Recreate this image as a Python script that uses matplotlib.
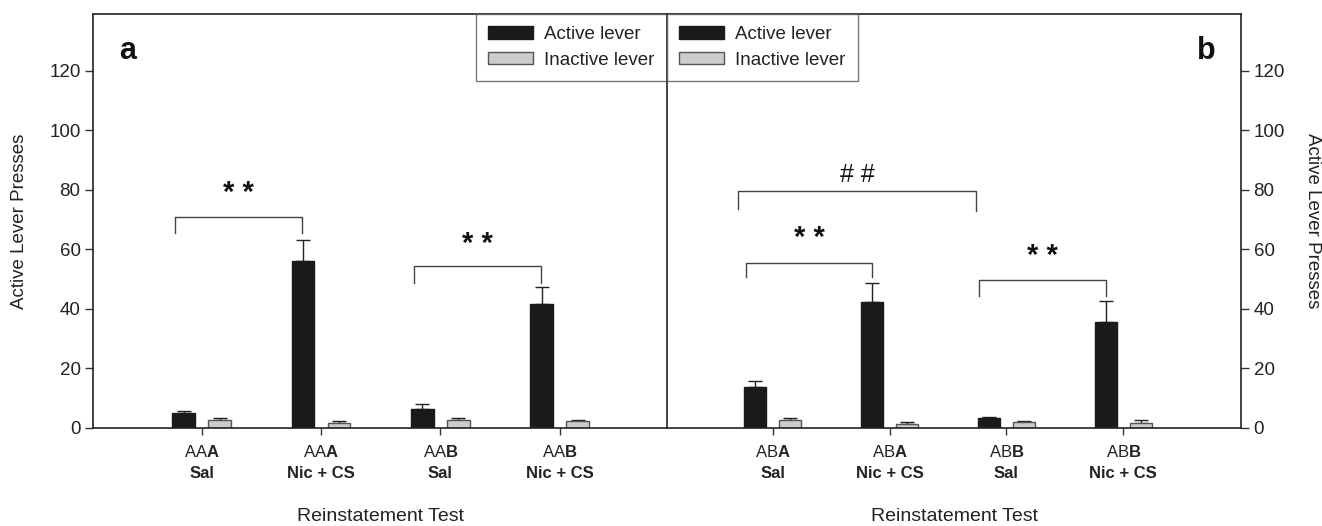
import matplotlib
matplotlib.use("Agg")
import matplotlib.pyplot as plt
from matplotlib.patches import Patch
import numpy as np

plt.rcParams['font.family'] = ['Liberation Sans', 'DejaVu Sans']
plt.rcParams['mathtext.fontset'] = 'custom'
plt.rcParams['mathtext.rm'] = 'Liberation Sans'
plt.rcParams['mathtext.bf'] = 'Liberation Sans:bold'

# data
groups_a = ["AA$\\mathbf{A}$", "AA$\\mathbf{A}$", "AA$\\mathbf{B}$", "AA$\\mathbf{B}$"]
groups_b = ["AB$\\mathbf{A}$", "AB$\\mathbf{A}$", "AB$\\mathbf{B}$", "AB$\\mathbf{B}$"]
conditions = ["Sal", "Nic + CS", "Sal", "Nic + CS"]

active_a = [4.9, 56.1, 6.3, 41.5]
active_a_err = [0.7, 6.8, 1.7, 5.8]
inactive_a = [2.5, 1.6, 2.6, 2.1]
inactive_a_err = [0.6, 0.6, 0.6, 0.6]

active_b = [13.8, 42.3, 3.1, 35.5]
active_b_err = [1.8, 6.3, 0.6, 7.0]
inactive_b = [2.7, 1.4, 2.0, 1.7]
inactive_b_err = [0.5, 0.4, 0.3, 0.8]

# significance brackets: (x0, x1, y, left leg end, right leg end, label, label y)
brackets_a = [(0.78, 1.84, 70.8, 65.4, 65.4, "* *", 79.0),
              (2.78, 3.84, 54.4, 48.7, 48.7, "* *", 61.8)]
brackets_b = [(0.706, 2.74, 79.6, 73.5, 72.7, "# #", 85.0),
              (0.769, 1.853, 55.5, 50.5, 50.5, "* *", 63.7),
              (2.766, 3.85, 49.5, 44.3, 44.3, "* *", 57.8)]

black = '#1a1a1a'
grey = '#cccccc'
w = 0.19
off = 0.15
x = np.arange(1, 5)

fig = plt.figure(figsize=(13.22, 5.26), dpi=100)
ax1 = fig.add_axes([0.07035, 0.1869, 0.4342, 0.7865])
ax2 = fig.add_axes([0.50454, 0.1869, 0.4342, 0.7865])


def panel(ax, act, act_err, inact, inact_err, groups, brackets, xlim, letter, side):
    ax.bar(x - off, act, w, color=black, edgecolor=black, lw=1, zorder=2)
    ax.bar(x + off, inact, w, color=grey, edgecolor='#555555', lw=1, zorder=2)
    ax.errorbar(x - off, act, yerr=[np.zeros(4), act_err], fmt='none',
                ecolor='#222222', elinewidth=1, capsize=5, capthick=1, zorder=1)
    ax.errorbar(x + off, inact, yerr=[np.zeros(4), inact_err], fmt='none',
                ecolor='#222222', elinewidth=1, capsize=5, capthick=1, zorder=1)
    ax.set_xlim(*xlim)
    ax.set_ylim(0, 139)
    ax.set_yticks(range(0, 121, 20))
    ax.set_xticks(x)
    ax.set_xticklabels([])
    ax.tick_params(axis='x', direction='out', length=5, width=1, colors='#333333')
    ax.tick_params(axis='y', direction='out', length=6, width=1, labelsize=13.5,
                   colors='#333333', labelcolor='#222222', pad=3)
    for s in ax.spines.values():
        s.set_linewidth(1.2)
        s.set_color('#222222')
    for i in range(4):
        ax.annotate(groups[i], xy=(x[i], 0), xycoords=('data', 'axes fraction'),
                    xytext=(0, -17.5), textcoords='offset points',
                    ha='center', va='center', fontsize=12, color='#222222')
        ax.annotate(conditions[i], xy=(x[i], 0), xycoords=('data', 'axes fraction'),
                    xytext=(0, -33), textcoords='offset points',
                    ha='center', va='center', fontsize=12, fontweight='bold',
                    color='#222222')
    for x0, x1, y, l0, l1, lab, ly in brackets:
        ax.plot([x0, x0, x1, x1], [l0, y, y, l1], color='#444444', lw=1)
        ax.text((x0 + x1) / 2, ly, lab, ha='center', va='center',
                fontsize=21 if lab.startswith('*') else 18,
                fontweight='bold' if lab.startswith('*') else 'normal',
                color='#111111')
    ax.text(0.06 if side == 'left' else 0.94, 0.91, letter, transform=ax.transAxes,
            ha='center', va='center', fontsize=22, fontweight='bold', color='#111111')
    ax.set_xlabel("Reinstatement Test", fontsize=14, color='#222222', labelpad=49)


panel(ax1, active_a, active_a_err, inactive_a, inactive_a_err, groups_a, brackets_a,
      (0.09, 4.9), 'a', 'left')
panel(ax2, active_b, active_b_err, inactive_b, inactive_b_err, groups_b, brackets_b,
      (0.096, 5.007), 'b', 'right')

ax1.spines['right'].set_visible(False)
ax2.yaxis.tick_right()
ax2.yaxis.set_label_position('right')

ax1.set_ylabel("Active Lever Presses", fontsize=13.5, color='#222222', labelpad=15)
ax2.set_ylabel("Active Lever Presses", fontsize=13.5, color='#222222',
               rotation=270, va='bottom', labelpad=14)

handles = [Patch(facecolor=black, edgecolor=black), Patch(facecolor=grey, edgecolor='#555555')]
labels = ["Active lever", "Inactive lever"]
leg_kw = dict(fontsize=13.5, frameon=True, fancybox=False, borderaxespad=0,
              handlelength=2.4, handleheight=0.65, handletextpad=0.6,
              labelspacing=0.45, borderpad=0.65)
l1 = ax1.legend(handles, labels, loc='upper right', bbox_to_anchor=(1, 1), **leg_kw)
l2 = ax2.legend(handles, labels, loc='upper left', bbox_to_anchor=(0, 1), **leg_kw)
for lg in (l1, l2):
    lg.get_frame().set_edgecolor('#555555')
    lg.get_frame().set_linewidth(1)
    for t in lg.get_texts():
        t.set_color('#222222')

fig.savefig("out.png", dpi=100)
